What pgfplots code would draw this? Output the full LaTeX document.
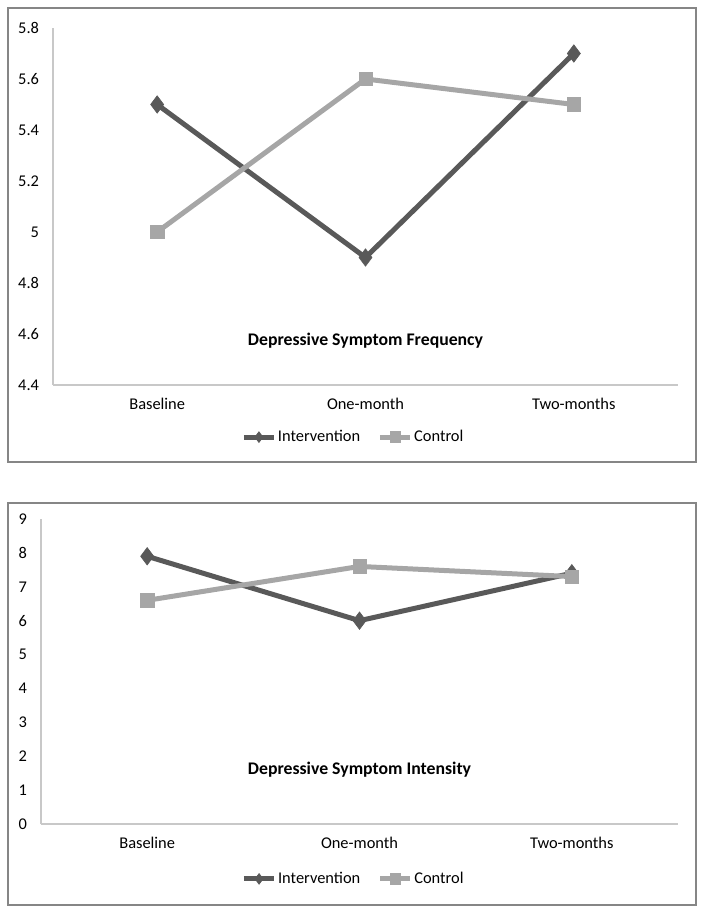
\documentclass[border=0pt]{standalone}
\usepackage{pgfplots}
\pgfplotsset{compat=1.18}
\usepackage{fontspec}
\setmainfont{Carlito}
\definecolor{interv}{HTML}{595959}
\definecolor{contr}{HTML}{A6A6A6}
\definecolor{frame}{HTML}{868686}
\definecolor{axl}{HTML}{C8C8C8}
\pgfplotsset{
  mystyle/.style={
    scale only axis,
    anchor=south west,
    axis x line=bottom, axis y line=left,
    axis line style={axl, line width=0.9pt, -},
    xmin=-0.5, xmax=2.5,
    xtick={0,1,2}, xticklabels={Baseline,One-month,Two-months},
    major tick length=0pt,
    tick label style={font=\fontsize{12.3}{14}\selectfont, text=black},
    xticklabel style={yshift=-6pt},
    yticklabel style={xshift=-7pt},
    /pgf/number format/assume math mode=true,
    legend columns=2,
    legend style={draw=none, fill=none, font=\fontsize{12.3}{14}\selectfont,
      nodes={inner xsep=1pt},
      /tikz/every even column/.append style={column sep=12pt}},
    legend image code/.code={
      \draw[##1, mark repeat=2, mark phase=2, mark size=4pt] plot coordinates {(0cm,0cm) (0.4cm,0cm) (0.8cm,0cm)};
    },
    clip=false,
  },
  intstyle/.style={interv, line width=3.75pt, mark=diamond*, mark size=6.5pt, mark options={solid, line width=0.5pt, fill=interv}},
  constyle/.style={contr, line width=3.75pt, mark=square*, mark size=5pt, mark options={solid, line width=0.5pt, fill=contr}},
}
\begin{document}
\begin{tikzpicture}
\path[use as bounding box] (0pt,0pt) rectangle (528pt,683.25pt);
\draw[frame, line width=1.1pt] (6pt,336.75pt) rectangle (522pt,677.25pt);
\draw[frame, line width=1.1pt] (6pt,4.5pt) rectangle (522pt,306pt);
\begin{axis}[mystyle,
  at={(39.75pt,394.5pt)},
  width=468.75pt, height=267.75pt,
  ymin=4.4, ymax=5.8,
  ytick={4.4,4.6,4.8,5,5.2,5.4,5.6,5.8},
  yticklabel style={/pgf/number format/.cd, fixed, precision=1},
  legend style={at={(0.48,-0.146)}, anchor=center},
]
\addplot[intstyle] coordinates {(0,5.5) (1,4.9) (2,5.7)};
\addlegendentry{Intervention}
\addplot[constyle] coordinates {(0,5.0) (1,5.6) (2,5.5)};
\addlegendentry{Control}
\node[font=\fontsize{13.3}{15}\selectfont\bfseries] at (axis cs:1,4.573) {Depressive Symptom Frequency};
\end{axis}
\begin{axis}[mystyle,
  at={(30.75pt,65.25pt)},
  width=477.75pt, height=228.75pt,
  ymin=0, ymax=9,
  ytick={0,1,...,9},
  legend style={at={(0.49,-0.18)}, anchor=center},
]
\addplot[intstyle] coordinates {(0,7.9) (1,6.0) (2,7.4)};
\addlegendentry{Intervention}
\addplot[constyle] coordinates {(0,6.6) (1,7.6) (2,7.3)};
\addlegendentry{Control}
\node[font=\fontsize{13.3}{15}\selectfont\bfseries] at (axis cs:1,1.59) {Depressive Symptom Intensity};
\end{axis}
\end{tikzpicture}
\end{document}
